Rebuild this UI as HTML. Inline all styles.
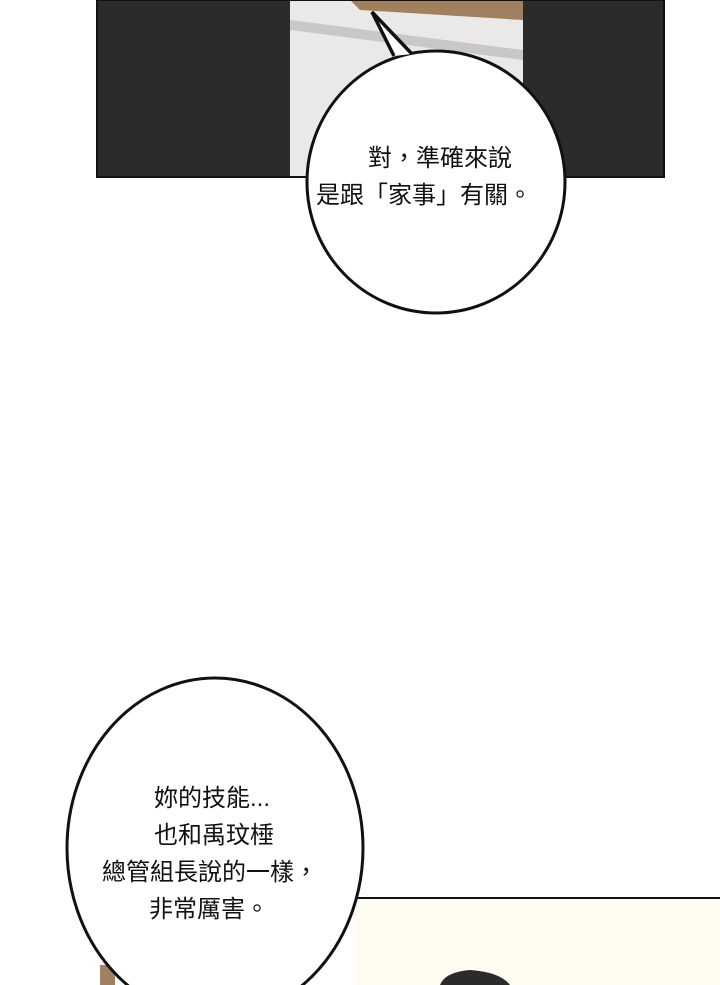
<!DOCTYPE html>
<html><head><meta charset="utf-8"><style>
html,body{margin:0;padding:0;background:#fff;}
svg{display:block}
text{font-family:"Liberation Sans","Noto Sans CJK TC",sans-serif;fill:#111;}
</style></head><body>
<svg width="720" height="985" viewBox="0 0 720 985" xmlns="http://www.w3.org/2000/svg">
<rect width="720" height="985" fill="#fff"/>
<rect x="97" y="0" width="567" height="177" fill="#2b2b2b"/>
<rect x="290" y="0" width="233" height="177" fill="#ebe9e7"/>
<polygon points="350,0 523,0 523,20 360,10" fill="#a0805e"/>
<polygon points="290,20 523,50 523,60 290,30" fill="#c8c8c8"/>
<rect x="97" y="0" width="567" height="177" fill="none" stroke="#111" stroke-width="2"/>
<ellipse cx="436" cy="182" rx="129" ry="131" fill="#fff" stroke="#111" stroke-width="3"/>
<path d="M394,56 L372,12 L412,54" fill="#fff" stroke="#111" stroke-width="3.5" stroke-linejoin="miter"/>
<text x="440" y="166" font-size="24" text-anchor="middle">對，準確來說</text>
<text x="424" y="203" font-size="24" text-anchor="middle">是跟「家事」有關。</text>
<rect x="355" y="898" width="365" height="87" fill="#fffcf2"/>
<line x1="355" y1="898" x2="720" y2="898" stroke="#111" stroke-width="2"/>
<path d="M440,985 Q445,972 470,970 Q500,972 510,985 Z" fill="#2b2b2b"/>
<rect x="100" y="965" width="15" height="20" fill="#a08060"/>
<ellipse cx="215" cy="848" rx="148" ry="170" fill="#fff" stroke="#111" stroke-width="3"/>
<text x="212" y="806" font-size="24" text-anchor="middle">妳的技能...</text>
<text x="214" y="843" font-size="24" text-anchor="middle">也和禹玟棰</text>
<text x="210" y="880" font-size="24" text-anchor="middle">總管組長說的一樣，</text>
<text x="209" y="917" font-size="24" text-anchor="middle">非常厲害。</text>
</svg>
</body></html>
